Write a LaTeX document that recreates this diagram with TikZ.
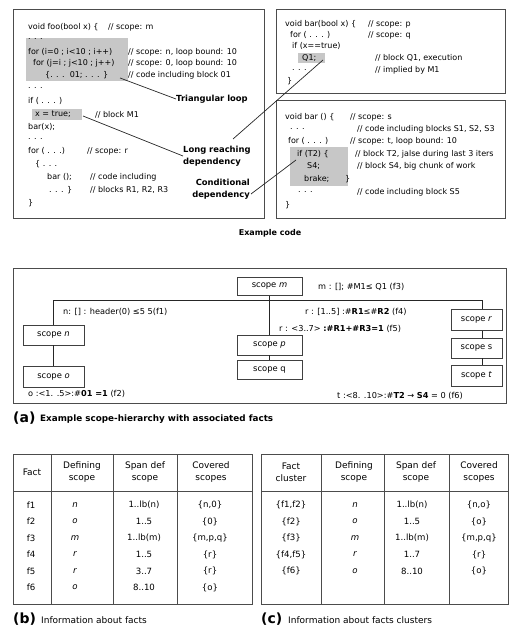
\documentclass[tikz,border=0pt]{standalone}
\usepackage{fontspec}
\setmainfont{DejaVu Sans}
\newcommand\cf{\fontsize{8}{9}\selectfont}
\newcommand\ff{\fontsize{8.2}{9}\selectfont}
\newcommand\lf{\fontsize{8.4}{12}\selectfont\bfseries}
\begin{document}
\begin{tikzpicture}[x=1pt,y=-1pt,
  code/.style={anchor=west,inner sep=0,font=\cf},
  frame/.style={draw=black!70,line width=0.9pt},
  hilite/.style={fill=black!22,draw=none},
  scopebox/.style={draw=black!75,line width=0.6pt,inner sep=0,font=\fontsize{8.4}{9}\selectfont,minimum width=65,minimum height=20},
  fact/.style={anchor=west,inner sep=0,font=\ff},
  lbl/.style={inner sep=0,font=\lf},
  link/.style={draw=black!85,line width=0.7pt},
  tline/.style={draw=black!70,line width=0.8pt},
  hcell/.style={inner sep=0,font=\fontsize{9}{12}\selectfont,align=center},
  tcell/.style={inner sep=0,font=\fontsize{8.6}{9}\selectfont},
  capl/.style={anchor=west,inner sep=0,font=\fontsize{14}{14}\selectfont\bfseries},
  capt/.style={anchor=west,inner sep=0,font=\fontsize{9}{10}\selectfont}
]
\useasboundingbox (0,0) rectangle (512,628);

% ---------- code boxes ----------
\draw[frame] (13,9) rectangle (264,218);
\draw[frame] (276,9) rectangle (505,93);
\draw[frame] (276,100) rectangle (505,218);

\fill[hilite] (26,38) rectangle (128,81);
\fill[hilite] (32,109) rectangle (82,120);
\fill[hilite] (298,53) rectangle (325,63);
\fill[hilite] (290,147) rectangle (348,186);

% left box
\node[code] (a1) at (28,27) {void foo(bool x) \{};
\node[code] (a1c) at (108,27) {// scope: m};
\node[code] (a2) at (28,39) {. . .};
\node[code] (a3) at (28,52) {for (i=0 ; i<10 ; i++)};
\node[code] (a3c) at (128,52) {// scope: n, loop bound: 10};
\node[code] (a4) at (33,63) {for (j=i ; j<10 ; j++)};
\node[code] (a4c) at (128,63) {// scope: 0, loop bound: 10};
\node[code] (a5) at (45,75) {\{. . .\ \ 01; . . . \}};
\node[code] (a5c) at (128,75) {// code including block 01};
\node[code] (a6) at (28,88) {. . .};
\node[code] (a7) at (28,101) {if ( . . . )};
\node[code] (a8) at (35,114.5) {x = true;};
\node[code] (a8c) at (95,114.5) {// block M1};
\node[code] (a9) at (28,127) {bar(x);};
\node[code] (a10) at (28,139) {. . .};
\node[code] (a11) at (28,151) {for ( . . .)};
\node[code] (a11c) at (87,151) {// scope: r};
\node[code] (a12) at (35,164) {\{ . . .};
\node[code] (a13) at (47,177) {bar ();};
\node[code] (a13c) at (90,177) {// code including};
\node[code] (a14) at (49,190) {. . . \}};
\node[code] (a14c) at (90,190) {// blocks R1, R2, R3};
\node[code] (a15) at (28,203) {\}};

% top right box
\node[code] (b1) at (285,24) {void bar(bool x) \{};
\node[code] (b1c) at (368,24) {// scope: p};
\node[code] (b2) at (290,35) {for ( . . . )};
\node[code] (b2c) at (368,35) {// scope: q};
\node[code] (b3) at (292,46) {if (x==true)};
\node[code] (b4) at (302,58) {Q1;};
\node[code] (b4c) at (375,58) {// block Q1, execution};
\node[code] (b5) at (292,70) {. . .};
\node[code] (b5c) at (375,70) {// implied by M1};
\node[code] (b6) at (287,81) {\}};

% bottom right box
\node[code] (c1) at (285,117) {void bar () \{};
\node[code] (c1c) at (350,117) {// scope: s};
\node[code] (c2) at (290,129) {. . .};
\node[code] (c2c) at (357,129) {// code including blocks S1, S2, S3};
\node[code] (c3) at (288,141) {for ( . . . )};
\node[code] (c3c) at (350,141) {// scope: t, loop bound: 10};
\node[code] (c4) at (297,154) {if (T2) \{};
\node[code] (c4c) at (355,154) {// block T2, jalse during last 3 iters};
\node[code] (c5) at (307,166) {S4;};
\node[code] (c5c) at (357,166) {// block S4, big chunk of work};
\node[code] (c6) at (304,179) {brake;};
\node[code] (c6b) at (345,179) {\}};
\node[code] (c7) at (298,192) {. . .};
\node[code] (c7c) at (357,192) {// code including block S5};
\node[code] (c8) at (285,205) {\}};

% labels
\node[lbl,anchor=west] (tri) at (176,99) {Triangular loop};
\node[lbl,anchor=west,align=left] (lr) at (183,156) {Long reaching\\dependency};
\node[lbl,anchor=east,align=right] (cd) at (250,189) {Conditional\\dependency};

\coordinate (h1) at (120,78);
\coordinate (h2) at (83,116);
\coordinate (l3s) at (233,139);
\coordinate (q1p) at (323,60);
\coordinate (cde) at (251,194);
\coordinate (t2p) at (296,160);
\draw[link] (h1) -- (tri.west);
\draw[link] (h2) -- (lr.west);
\draw[link] (l3s) -- (q1p);
\draw[link] (cde) -- (t2p);

\node[inner sep=0,font=\fontsize{8}{9}\selectfont\bfseries] (excap) at (270,233) {Example code};

% ---------- part (a) ----------
\draw[frame] (13,268) rectangle (506,403);
\node[scopebox,minimum height=18] (m) at (269.5,286.5) {scope \textit{m}};
\node[scopebox,minimum width=61] (n) at (53.5,335) {scope \textit{n}};
\node[scopebox,minimum width=61,minimum height=21] (o) at (53.5,377) {scope \textit{o}};
\node[scopebox] (p) at (269.5,345) {scope \textit{p}};
\node[scopebox,minimum height=19] (q) at (269.5,370) {scope q};
\node[scopebox,minimum width=51,minimum height=21] (r) at (476.5,320) {scope \textit{r}};
\node[scopebox,minimum width=51] (s) at (476.5,348) {scope s};
\node[scopebox,minimum width=51,minimum height=21] (t) at (476.5,375.5) {scope \textit{t}};

\coordinate (rtop) at (482,300);
\draw[link,line width=0.6pt] (n.north) |- (rtop) -- (rtop |- r.north);
\draw[link,line width=0.6pt] (r.south -| rtop) -- (rtop |- s.north);
\draw[link,line width=0.6pt] (s.south -| rtop) -- (rtop |- t.north);
\draw[link,line width=0.6pt] (m.south) -- (p.north);
\draw[link,line width=0.6pt] (p.south) -- (q.north);
\draw[link,line width=0.6pt] (n.south) -- (o.north);

\node[fact] (f3) at (318,287) {m : []; \#M1≤ Q1 (f3)};
\node[fact] (f1) at (63,312) {n: [] : header(0) ≤5 5(f1)};
\node[fact] (f4) at (305,312) {r : [1..5] :\#\textbf{R1}≤\#\textbf{R2} (f4)};
\node[fact] (f5) at (279,329) {r : <3..7> \textbf{:\#R1+\#R3=1} (f5)};
\node[fact] (f2) at (28,394) {o :<1. .5>:\#\textbf{01 =1} (f2)};
\node[fact] (f6) at (337,396) {t :<8. .10>:\#\textbf{T2} → \textbf{S4} = 0 (f6)};

\node[capl] (capa) at (13,418) {(a)};
\node[capt,font=\fontsize{8.8}{10}\selectfont\bfseries] (capat) at (40,419) {Example scope-hierarchy with associated facts};

% ---------- table (b) ----------
\draw[tline] (13,454) rectangle (252,604);
\draw[tline] (13,491) -- (252,491);
\draw[tline] (51,454) -- (51,604);
\draw[tline] (113,454) -- (113,604);
\draw[tline] (177,454) -- (177,604);
\node[hcell] (bh1) at (32,472) {Fact};
\node[hcell] (bh2) at (82,472) {Defining\\scope};
\node[hcell] (bh3) at (145,472) {Span def\\scope};
\node[hcell] (bh4) at (211,472) {Covered\\scopes};
\foreach \i/\fa/\ds/\sp/\cs in {0/f1/n/1..lb(n)/{\{n,0\}},1/f2/o/1..5/{\{0\}},2/f3/m/1..lb(m)/{\{m,p,q\}},3/f4/r/1..5/{\{r\}},4/f5/r/3..7/{\{r\}},5/f6/o/8..10/{\{o\}}}{
  \node[tcell] (bfa\i) at (31,505+16.5*\i) {\fa};
  \node[tcell] (bds\i) at (75,505+16.5*\i) {\textit{\ds}};
  \node[tcell] (bsp\i) at (144,505+16.5*\i) {\sp};
  \node[tcell] (bcs\i) at (210,505+16.5*\i) {\cs};
}
\node[capl] (capb) at (13,619) {(b)};
\node[capt] (capbt) at (41,620) {Information about facts};

% ---------- table (c) ----------
\draw[tline] (261,454) rectangle (508,604);
\draw[tline] (261,491) -- (508,491);
\draw[tline] (321,454) -- (321,604);
\draw[tline] (384,454) -- (384,604);
\draw[tline] (449,454) -- (449,604);
\node[hcell] (ch1) at (291,472) {Fact\\cluster};
\node[hcell] (ch2) at (354,472) {Defining\\scope};
\node[hcell] (ch3) at (416,472) {Span def\\scope};
\node[hcell] (ch4) at (479,472) {Covered\\scopes};
\foreach \i/\fa/\ds/\sp/\cs in {0/{\{f1,f2\}}/n/1..lb(n)/{\{n,o\}},1/{\{f2\}}/o/1..5/{\{o\}},2/{\{f3\}}/m/1..lb(m)/{\{m,p,q\}},3/{\{f4,f5\}}/r/1..7/{\{r\}},4/{\{f6\}}/o/8..10/{\{o\}}}{
  \node[tcell] (cfa\i) at (291,505+16.5*\i) {\fa};
  \node[tcell] (cds\i) at (355,505+16.5*\i) {\textit{\ds}};
  \node[tcell] (csp\i) at (412,505+16.5*\i) {\sp};
  \node[tcell] (ccs\i) at (479,505+16.5*\i) {\cs};
}
\node[capl] (capc) at (261,619) {(c)};
\node[capt] (capct) at (288,620) {Information about facts clusters};
\end{tikzpicture}
\end{document}
